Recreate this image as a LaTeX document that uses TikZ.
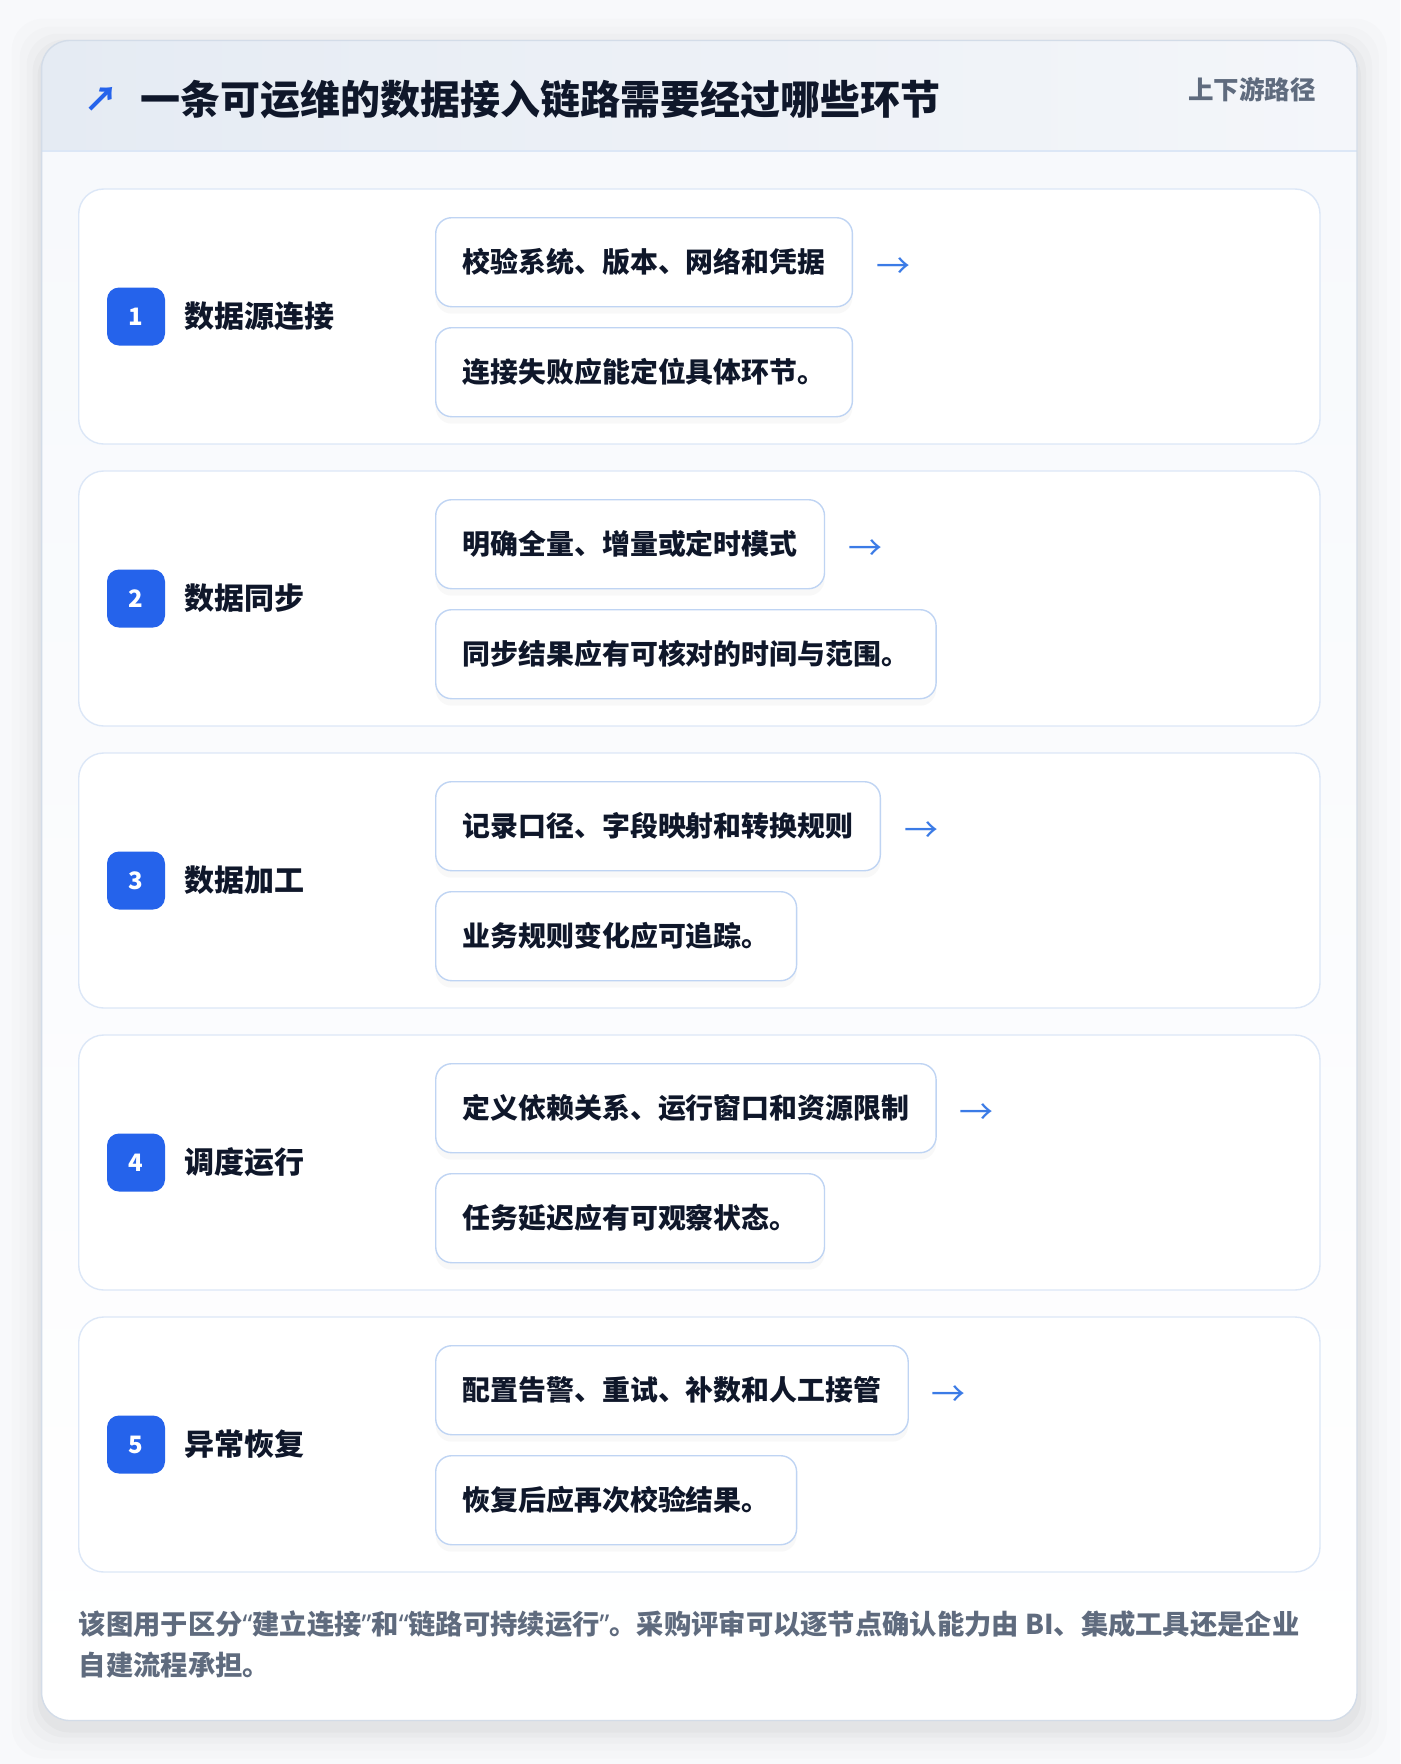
\documentclass[tikz,border=0pt]{standalone}
\usepackage{fontspec}
\setmainfont{Noto Sans CJK SC}
\newfontfamily\latinq{Noto Sans}
\usetikzlibrary{shadows}
\definecolor{bgc}{HTML}{F8F9FB}
\definecolor{cardline}{HTML}{D3DCE8}
\definecolor{hdrL}{HTML}{E5EBF3}
\definecolor{hdrR}{HTML}{F4F6FA}
\definecolor{hdrline}{HTML}{DCE7F6}
\definecolor{bodyc}{HTML}{F7F9FC}
\definecolor{panelline}{HTML}{DCE7F7}
\definecolor{boxline}{HTML}{BFD4F3}
\definecolor{badge}{HTML}{2563EB}
\definecolor{arrowc}{HTML}{3B7BE6}
\definecolor{titlec}{HTML}{0F172A}
\definecolor{mutedc}{HTML}{5F6B7E}
\newcommand{\narrowq}[1]{{\latinq\bfseries #1}}
\tikzset{
  panelbox/.style={draw=panelline, line width=1.4pt, fill=white, rounded corners=25pt},
  badgebox/.style={fill=badge, rounded corners=12pt, minimum width=58pt, minimum height=58pt, inner sep=0pt, text=white, font=\bfseries\fontsize{24}{28}\selectfont},
  steplabel/.style={anchor=west, inner sep=0pt, text=titlec, font=\bfseries\fontsize{30}{34}\selectfont},
  subbox/.style={draw=boxline, line width=1.4pt, fill=white, rounded corners=16pt, anchor=north west, inner xsep=27pt, inner ysep=0pt, minimum height=89pt, text=titlec, font=\bfseries\fontsize{27.9}{32}\selectfont, drop shadow={opacity=0.05, shadow xshift=0pt, shadow yshift=-7pt}},
  arrowglyph/.style={inner sep=0pt, text=arrowc, font=\fontsize{34}{36}\selectfont},
  foot/.style={anchor=west, inner sep=0pt, text=mutedc, font=\bfseries\fontsize{27.3}{30}\selectfont}
}
\begin{document}
\begin{tikzpicture}[x=1pt,y=-1pt]
\useasboundingbox (0,0) rectangle (1400,1764);
\fill[bgc] (0,0) rectangle (1400,1764);
% card shadow
\foreach \s/\o in {30/0.01,22/0.012,15/0.015,9/0.018,4/0.022}{
  \fill[black, opacity=\o, rounded corners=32pt] (41.6-\s,40.5-\s+8) rectangle (1357+\s,1720.5+\s+8);
}
% card
\begin{scope}
  \clip[rounded corners=28pt] (41.6,40.5) rectangle (1357,1720.5);
  \shade[top color=bodyc, bottom color=white] (41.6,150) rectangle (1357,1720.5);
  \shade[left color=hdrL, right color=hdrR] (41.6,40.5) rectangle (1357,150.7);
  \draw[hdrline, line width=1.6pt] (41.6,150.7) -- (1357,150.7);
\end{scope}
\draw[cardline, line width=1.4pt, rounded corners=28pt] (41.6,40.5) rectangle (1357,1720.5);
% header
\node[inner sep=0pt, text=badge, font=\bfseries\fontsize{34}{36}\selectfont] (tarrow) at (101,99) {↗};
\node[anchor=west, inner sep=0pt, text=titlec, font=\bfseries\fontsize{40}{44}\selectfont] (title) at (140,99) {一条可运维的数据接入链路需要经过哪些环节};
\node[anchor=east, inner sep=0pt, text=mutedc, font=\bfseries\fontsize{25.5}{28}\selectfont] (tag) at (1316,90) {上下游路径};
% steps
\foreach \i/\lab/\ta/\tb [count=\k from 0] in {
  1/数据源连接/校验系统、版本、网络和凭据/连接失败应能定位具体环节。,
  2/数据同步/明确全量、增量或定时模式/同步结果应有可核对的时间与范围。,
  3/数据加工/记录口径、字段映射和转换规则/业务规则变化应可追踪。,
  4/调度运行/定义依赖关系、运行窗口和资源限制/任务延迟应有可观察状态。,
  5/异常恢复/配置告警、重试、补数和人工接管/恢复后应再次校验结果。}{
  \pgfmathsetmacro{\top}{189+282*\k}
  \draw[panelbox] (78.7,\top) rectangle (1320,\top+255);
  \node[badgebox] (n\i) at (136,\top+127.5) {\i};
  \node[steplabel] (l\i) at (184,\top+127.5) {\lab};
  \node[subbox] (b\i) at (435,\top+28) {\ta};
  \node[subbox] (c\i) at (435,\top+138) {\tb};
  \node[arrowglyph] (a\i) at ([xshift=40pt,yshift=-6pt]b\i.east) {→};
}
% footer
\node[foot] (f1) at (78.7,1624) {该图用于区分\narrowq{“}建立连接\narrowq{”}和\narrowq{“}链路可持续运行\narrowq{”}。采购评审可以逐节点确认能力由 BI、集成工具还是企业};
\node[foot] (f2) at (78.7,1665) {自建流程承担。};
\end{tikzpicture}
\end{document}
